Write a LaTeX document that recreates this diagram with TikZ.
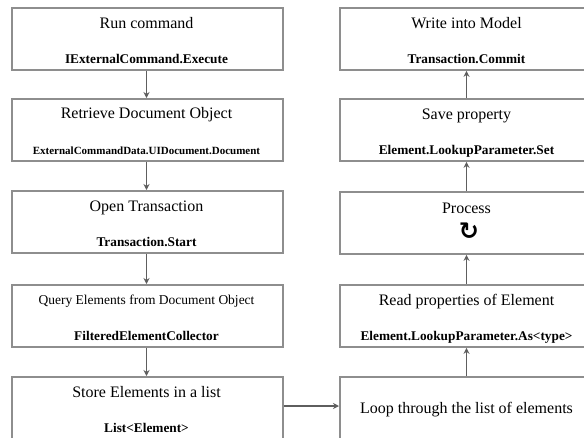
\documentclass[tikz,border=0pt]{standalone}
\usepackage{fontspec}
\setmainfont{Liberation Serif}
\newfontfamily\symfont{DejaVu Sans}
\usetikzlibrary{arrows.meta}
\definecolor{boxline}{HTML}{8E8E8E}
\definecolor{arrowcol}{HTML}{5E5E5E}
\tikzset{
  stepbox/.style={draw=boxline, line width=1.8pt, rectangle, anchor=north west, inner sep=0pt},
  lbox/.style={stepbox, minimum width=271pt, minimum height=62pt},
  rbox/.style={stepbox, minimum width=256pt, minimum height=62pt},
  ttl/.style={anchor=base, inner sep=0pt, font=\fontsize{16}{18}\selectfont},
  ttlsmall/.style={anchor=base, inner sep=0pt, font=\fontsize{13.5}{16}\selectfont},
  code/.style={anchor=base, inner sep=0pt, font=\fontsize{13.3}{16}\selectfont\bfseries},
  codesmall/.style={anchor=base, inner sep=0pt, font=\fontsize{11}{13}\selectfont\bfseries},
  conn/.style={draw=arrowcol, line width=1.9pt, -{Stealth[length=6pt,width=6pt]}},
}
\begin{document}
\begin{tikzpicture}[x=1pt,y=-1pt]
\useasboundingbox (0,0) rectangle (584,437);
\begin{scope}
\clip (0,0) rectangle (584,437);
% left column
\node[lbox] (l1) at (11,7) {};
\node[lbox] (l2) at (11,98) {};
\node[lbox] (l3) at (11,190) {};
\node[lbox] (l4) at (11,284) {};
\node[lbox] (l5) at (11,376) {};
% right column
\node[rbox] (r1) at (339,7) {};
\node[rbox] (r2) at (339,98) {};
\node[rbox] (r3) at (339,191) {};
\node[rbox] (r4) at (339,284) {};
\node[rbox] (r5) at (339,376) {};
\end{scope}
% texts left
\node[ttl] (l1t) at (146.5,28) {Run command};
\node[code] (l1c) at (146.5,63) {IExternalCommand.Execute};
\node[ttl] (l2t) at (146.5,118.5) {Retrieve Document Object};
\node[codesmall] (l2c) at (146.5,154) {ExternalCommandData.UIDocument.Document};
\node[ttl] (l3t) at (146.5,211) {Open Transaction};
\node[code] (l3c) at (146.5,246.5) {Transaction.Start};
\node[ttlsmall] (l4t) at (146.5,304) {Query Elements from Document Object};
\node[code] (l4c) at (146.5,340) {FilteredElementCollector};
\node[ttl] (l5t) at (146.5,397) {Store Elements in a list};
\node[code] (l5c) at (146.5,432) {List<Element>};
% texts right
\node[ttl] (r1t) at (466.5,28) {Write into Model};
\node[code] (r1c) at (466.5,63) {Transaction.Commit};
\node[ttl] (r2t) at (466.5,119) {Save property};
\node[code] (r2c) at (466.5,154.5) {Element.LookupParameter.Set};
\node[ttl] (r3t) at (466.5,213) {Process};
\node[inner sep=0pt, font=\symfont\bfseries\fontsize{24}{26}\selectfont] (r3i) at (469,231) {↻};
\node[ttl] (r4t) at (466.5,305) {Read properties of Element};
\node[code] (r4c) at (466.5,340) {Element.LookupParameter.As<type>};
\node[ttl] (r5t) at (466.5,413) {Loop through the list of elements};
% connectors
\draw[conn] (l1.south -| l1c) -- (l2.north -| l1c);
\draw[conn] (l2.south -| l1c) -- (l3.north -| l1c);
\draw[conn] (l3.south -| l1c) -- (l4.north -| l1c);
\draw[conn] (l4.south -| l1c) -- (l5.north -| l1c);
\coordinate (jy) at (0,406);
\draw[conn] (l5.east |- jy) -- (r5.west |- jy);
\draw[conn] (r5.north -| r1c) -- (r4.south -| r1c);
\draw[conn] (r4.north -| r1c) -- (r3.south -| r1c);
\draw[conn] (r3.north -| r1c) -- (r2.south -| r1c);
\draw[conn] (r2.north -| r1c) -- (r1.south -| r1c);
\end{tikzpicture}
\end{document}
